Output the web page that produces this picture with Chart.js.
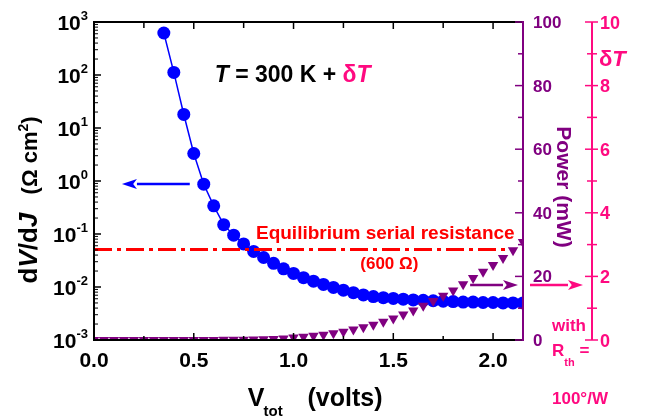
<!DOCTYPE html>
<html>
<head>
<meta charset="utf-8">
<script src="https://cdn.jsdelivr.net/npm/chart.js@4"></script>
<style>
html, body { margin: 0; padding: 0; background: #fff; }
</style>
</head>
<body>
<canvas id="chart" width="645" height="418"></canvas>
<script>
// differential resistance dV/dJ (ohm cm^2) vs total voltage
let vDiff = [0.35, 0.40, 0.45, 0.50, 0.55, 0.60, 0.65, 0.70, 0.75, 0.80,
             0.85, 0.90, 0.95, 1.00, 1.05, 1.10, 1.15, 1.20, 1.25, 1.30,
             1.35, 1.40, 1.45, 1.50, 1.55, 1.60, 1.65, 1.70, 1.75, 1.80,
             1.85, 1.90, 1.95, 2.00, 2.05, 2.10, 2.15];
let dVdJ = [620, 112, 18, 3.3, 0.87, 0.34, 0.15, 0.095, 0.065, 0.047,
            0.036, 0.028, 0.022, 0.018, 0.015, 0.0129, 0.0112, 0.0098, 0.0087, 0.0078,
            0.0071, 0.0066, 0.0063, 0.0061, 0.0059, 0.0057, 0.0056, 0.0055, 0.0054, 0.0053,
            0.0052, 0.0052, 0.0051, 0.0051, 0.0050, 0.0050, 0.0050];

// dissipated power (mW) vs total voltage
let vPow = [0.00, 0.05, 0.10, 0.15, 0.20, 0.25, 0.30, 0.35, 0.40, 0.45,
            0.50, 0.55, 0.60, 0.65, 0.70, 0.75, 0.80, 0.85, 0.90, 0.95,
            1.00, 1.05, 1.10, 1.15, 1.20, 1.25, 1.30, 1.35, 1.40, 1.45,
            1.50, 1.55, 1.60, 1.65, 1.70, 1.75, 1.80, 1.85, 1.90, 1.95,
            2.00, 2.05, 2.10, 2.15];
let powerMW = [0, 0, 0, 0, 0, 0, 0, 0, 0, 0,
               0, 0, 0.02, 0.04, 0.07, 0.1, 0.15, 0.22, 0.32, 0.5,
               0.8, 1.05, 1.3, 1.65, 2.1, 2.6, 3.3, 4.0, 4.8, 5.75,
               6.8, 8.0, 9.3, 10.8, 12.3, 13.9, 15.6, 17.5, 19.5, 21.5,
               23.6, 25.8, 28.2, 30.8];

// equilibrium serial resistance level
let eqV = [0.0, 2.06];
let eqR = [0.051, 0.051];

// ticks
let xMajor = [0, 0.5, 1.0, 1.5, 2.0];
let xMinor = [0.25, 0.75, 1.25, 1.75];
let logExp = [-3, -2, -1, 0, 1, 2, 3];
let powMajor = [0, 20, 40, 60, 80, 100];
let powMinor = [10, 30, 50, 70, 90];
let dTMajor = [0, 2, 4, 6, 8, 10];
let dTMinor = [1, 3, 5, 7, 9];

const FONT = "'Liberation Sans', Arial, sans-serif";
const BLUE = '#0000ff';
const PURPLE = '#800080';
const PINK = '#ff0a80';
const RED = '#ff0000';

function fnt(size, style) {
    return (style || 'bold') + ' ' + size + 'px ' + FONT;
}

function pts(xs, ys) {
    let out = [];
    for (var i = 0; i < xs.length; i++) {
        out.push({x: xs[i], y: ys[i]});
    }
    return out;
}

// draw a row of text pieces: [text, font, color, dy]
function runs(ctx, x, y, parts, align) {
    let w = 0;
    parts.forEach(p => { ctx.font = p[1]; w += ctx.measureText(p[0]).width; });
    let cx = x;
    if (align === 'right') cx = x - w;
    if (align === 'center') cx = x - w / 2;
    ctx.textAlign = 'left';
    parts.forEach(p => {
        ctx.font = p[1];
        ctx.fillStyle = p[2];
        ctx.fillText(p[0], cx, y + (p[3] || 0));
        cx += ctx.measureText(p[0]).width;
    });
}

function arrow(ctx, x1, y, x2, color) {
    let dir = x2 > x1 ? 1 : -1;
    let hl = 15, hw = 5;
    ctx.strokeStyle = color;
    ctx.fillStyle = color;
    ctx.lineWidth = 2.5;
    ctx.beginPath();
    ctx.moveTo(x1, y);
    ctx.lineTo(x2 - dir * hl, y);
    ctx.stroke();
    ctx.beginPath();
    ctx.moveTo(x2, y);
    ctx.lineTo(x2 - dir * hl, y - hw);
    ctx.lineTo(x2 - dir * hl * 0.75, y);
    ctx.lineTo(x2 - dir * hl, y + hw);
    ctx.closePath();
    ctx.fill();
}

function seg(ctx, x1, y1, x2, y2) {
    ctx.beginPath();
    ctx.moveTo(x1, y1);
    ctx.lineTo(x2, y2);
    ctx.stroke();
}

const decor = {
    id: 'decor',
    afterDraw(chart) {
        const ctx = chart.ctx;
        const a = chart.chartArea;
        const s = chart.scales;
        ctx.save();
        ctx.textBaseline = 'alphabetic';

        // frame
        ctx.strokeStyle = '#000';
        ctx.lineWidth = 2;
        seg(ctx, a.left, a.top, a.right, a.top);
        seg(ctx, a.left, a.bottom, a.right, a.bottom);
        seg(ctx, a.left, a.top - 1, a.left, a.bottom + 1);

        // x ticks, bottom and top
        ctx.lineWidth = 1.5;
        xMajor.forEach(v => {
            let x = s.x.getPixelForValue(v);
            seg(ctx, x, a.bottom, x, a.bottom - 7);
            seg(ctx, x, a.top, x, a.top + 7);
            runs(ctx, x, a.bottom + 27, [[v.toFixed(1), fnt(21), '#000']], 'center');
        });
        xMinor.forEach(v => {
            let x = s.x.getPixelForValue(v);
            seg(ctx, x, a.bottom, x, a.bottom - 4);
            seg(ctx, x, a.top, x, a.top + 6);
        });

        // log axis ticks and labels
        logExp.forEach(e => {
            let y = s.y.getPixelForValue(Math.pow(10, e));
            ctx.strokeStyle = '#000';
            ctx.lineWidth = 1.5;
            seg(ctx, a.left, y, a.left + 7, y);
            if (e < 3) {
                ctx.lineWidth = 1;
                for (var m = 2; m < 10; m++) {
                    let ym = s.y.getPixelForValue(m * Math.pow(10, e));
                    seg(ctx, a.left, ym, a.left + 4, ym);
                }
            }
            runs(ctx, a.left - 6, y + 8, [['10', fnt(21), '#000'], [String(e), fnt(13), '#000', -10]], 'right');
        });

        // power axis (right, purple)
        ctx.strokeStyle = PURPLE;
        ctx.lineWidth = 2;
        seg(ctx, a.right, a.top - 1, a.right, a.bottom + 1);
        ctx.lineWidth = 1.5;
        powMajor.forEach(v => {
            let y = s.yP.getPixelForValue(v);
            seg(ctx, a.right, y, a.right - 8, y);
            runs(ctx, a.right + 10, y + 6, [[String(v), fnt(17), PURPLE]], 'left');
        });
        powMinor.forEach(v => {
            let y = s.yP.getPixelForValue(v);
            seg(ctx, a.right, y, a.right - 5, y);
        });

        // delta T axis (outer right, pink)
        let xt = s.yT.left;
        ctx.strokeStyle = PINK;
        ctx.lineWidth = 2;
        seg(ctx, xt, a.top, xt, a.bottom);
        ctx.lineWidth = 1.5;
        dTMajor.forEach(v => {
            let y = s.yT.getPixelForValue(v);
            seg(ctx, xt - 7, y, xt + 6, y);
            runs(ctx, xt + 8, y + 6.5, [[String(v), fnt(18), PINK]], 'left');
        });
        dTMinor.forEach(v => {
            let y = s.yT.getPixelForValue(v);
            seg(ctx, xt - 5, y, xt + 5, y);
        });
        runs(ctx, xt + 7, a.top + 44, [['\u03b4', fnt(22), PINK], ['T', fnt(22, 'italic bold'), PINK]], 'left');

        // axis titles
        runs(ctx, s.x.getPixelForValue(0.77), 406, [['V', fnt(25), '#000']], 'left');
        runs(ctx, s.x.getPixelForValue(0.85), 416, [['tot', fnt(15), '#000']], 'left');
        runs(ctx, s.x.getPixelForValue(1.07), 406, [['(volts)', fnt(25), '#000']], 'left');

        ctx.save();
        ctx.translate(37, (a.top + a.bottom) / 2 + 19);
        ctx.rotate(-Math.PI / 2);
        runs(ctx, 0, 0, [
            ['d', fnt(26), '#000'], ['V', fnt(26, 'italic bold'), '#000'],
            ['/d', fnt(26), '#000'], ['J', fnt(26, 'italic bold'), '#000'],
            ['   (\u03a9 cm', fnt(22), '#000'], ['2', fnt(14), '#000', -9],
            [')', fnt(22), '#000']], 'center');
        ctx.restore();

        ctx.save();
        ctx.translate(a.right + 42, (a.top + a.bottom) / 2 + 6);
        ctx.rotate(Math.PI / 2);
        runs(ctx, 0, 8, [['Power (mW)', fnt(21), PURPLE]], 'center');
        ctx.restore();

        // R_th note under the delta T axis
        let xn = a.right + 29;
        runs(ctx, xn, a.bottom - 9, [['with', fnt(17), PINK]], 'left');
        runs(ctx, xn, a.bottom + 16, [['R', fnt(17), PINK], ['th', fnt(11), PINK, 10], [' =', fnt(17), PINK]], 'left');
        runs(ctx, xn, a.bottom + 64, [['100\u00b0/W', fnt(17), PINK]], 'left');

        // annotations inside the plot
        runs(ctx, s.x.getPixelForValue(0.605), s.y.getPixelForValue(100) + 7, [
            ['T', fnt(23, 'italic bold'), '#000'], [' = 300 K + ', fnt(23), '#000'],
            ['\u03b4', fnt(23), PINK], ['T', fnt(23, 'italic bold'), PINK]], 'left');
        runs(ctx, s.x.getPixelForValue(1.46), s.y.getPixelForValue(0.051) - 10,
            [['Equilibrium serial resistance', fnt(19), RED]], 'center');
        runs(ctx, s.x.getPixelForValue(1.48), s.y.getPixelForValue(0.051) + 20,
            [['(600 \u03a9)', fnt(17), RED]], 'center');

        // arrows pointing to the relevant axes
        let yb = s.y.getPixelForValue(0.88);
        arrow(ctx, s.x.getPixelForValue(0.48), yb, s.x.getPixelForValue(0.14), BLUE);
        let yp = s.yP.getPixelForValue(17.3);
        arrow(ctx, s.x.getPixelForValue(1.885), yp, a.right - 5, PURPLE);
        arrow(ctx, a.right + 7, yp, xt - 9, PINK);

        ctx.restore();
    }
};

function initChart() {
    const ctx = document.getElementById('chart').getContext('2d');
    let chart = new Chart(ctx, {
        type: 'scatter',
        data: {
            datasets: [{
                label: 'Equilibrium serial resistance',
                data: pts(eqV, eqR),
                yAxisID: 'y',
                showLine: true,
                borderColor: RED,
                borderWidth: 3,
                borderDash: [18, 5, 4, 5],
                pointRadius: 0
            }, {
                label: 'Power',
                data: pts(vPow, powerMW),
                yAxisID: 'yP',
                showLine: false,
                pointStyle: 'triangle',
                rotation: 180,
                pointRadius: 6,
                backgroundColor: PURPLE,
                borderColor: PURPLE,
                borderWidth: 0
            }, {
                label: 'dV/dJ',
                data: pts(vDiff, dVdJ),
                yAxisID: 'y',
                showLine: true,
                borderColor: BLUE,
                borderWidth: 1.5,
                pointRadius: 6.5,
                pointBackgroundColor: BLUE,
                pointBorderWidth: 0
            }]
        },
        options: {
            responsive: false,
            animation: false,
            layout: { padding: { top: 22, left: 0, right: 0, bottom: 0 } },
            plugins: { legend: { display: false }, tooltip: { enabled: false } },
            scales: {
                x: {
                    type: 'linear', position: 'bottom', min: 0, max: 2.15,
                    ticks: { display: false }, grid: { display: false }, border: { display: false },
                    afterFit: sc => { sc.height = 78; }
                },
                y: {
                    type: 'logarithmic', position: 'left', min: 1e-3, max: 1e3,
                    ticks: { display: false }, grid: { display: false }, border: { display: false },
                    afterFit: sc => { sc.width = 94; }
                },
                yP: {
                    type: 'linear', position: 'right', min: 0, max: 100, weight: 1,
                    ticks: { display: false }, grid: { display: false }, border: { display: false },
                    afterFit: sc => { sc.width = 69; }
                },
                yT: {
                    type: 'linear', position: 'right', min: 0, max: 10, weight: 2,
                    ticks: { display: false }, grid: { display: false }, border: { display: false },
                    afterFit: sc => { sc.width = 53; }
                }
            }
        },
        plugins: [decor]
    });
    return chart;
}

initChart();
</script>
</body>
</html>
